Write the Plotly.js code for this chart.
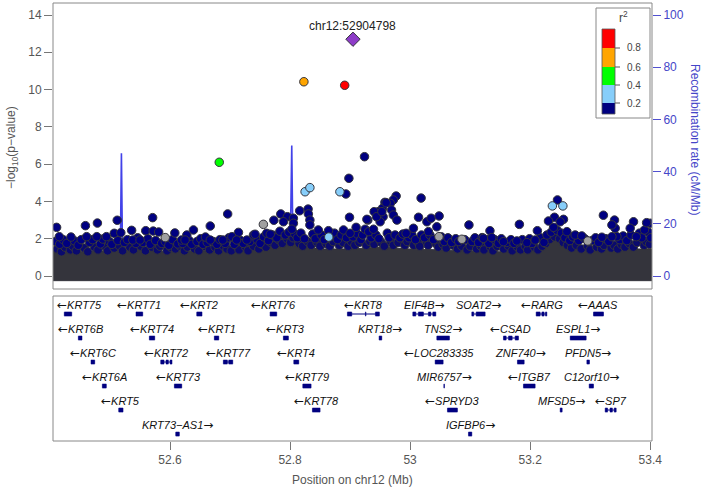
<!DOCTYPE html>
<html><head><meta charset="utf-8">
<script src="https://cdn.plot.ly/plotly-3.0.1.min.js"></script>
<style>html,body{margin:0;padding:0;background:#fff}#chart{width:704px;height:490px}</style>
</head><body><div id="chart"></div>
<script>
// ---------------- DATA ----------------
const leadName = "chr12:52904798";
const leadPos = [52.9048];
const leadP = [12.70];

const redPos = [52.891];      const redP = [10.23];
const orangePos = [52.823];   const orangeP = [10.42];
const greenPos = [52.682];    const greenP = [6.10];
const lightbluePos = [52.825, 52.833, 52.883, 52.8645, 53.237, 53.2545];
const lightblueP   = [4.52, 4.74, 4.52, 2.09, 3.76, 3.76];
const grayPos = [52.592, 52.7555, 53.048, 53.0862, 53.296];
const grayP   = [2.06, 2.77, 2.11, 1.97, 1.88];

const navyPos = [52.411,52.459,52.479,52.512,52.571,52.696,52.667,52.536,52.507,52.518,52.5595,52.572,52.581,52.608,52.628,52.639,52.714,52.435,52.4155,52.461,52.478,52.494,52.538,52.55,52.619,52.625,52.659,52.667,52.688,52.703,52.711,52.728,52.739,52.924,52.898,52.893,53.0183,52.9767,52.972,52.967,52.958,52.954,52.947,52.94,52.969,52.972,52.978,52.955,52.95,52.9295,52.899,52.91,52.816,52.83,52.8305,52.833,52.833,52.7845,52.7955,52.773,52.789,52.8055,52.8055,52.803,52.7417,52.761,52.767,52.847,52.864,52.889,52.90,52.925,52.931,52.939,53.014,53.028,53.035,53.0483,53.0055,52.9933,53.0305,53.0445,53.2455,53.322,53.182,53.098,53.133,53.2405,53.2555,53.2305,53.25,53.239,53.2612,53.3405,53.3417,53.3362,53.3722,53.3667,53.40,53.3905,53.377,53.3445,53.212,53.275,53.286,53.3195,53.3362,53.12,53.1222,53.136,53.1555,53.1778,53.1945,53.2083,52.928,52.944,52.953,52.96,53.394];
const navyP = [2.61,2.70,2.84,2.99,3.13,3.33,2.68,2.45,2.29,2.32,2.43,2.41,2.36,2.31,2.20,2.47,2.34,2.09,2.11,2.11,2.11,2.11,1.93,1.93,1.93,1.93,2.09,1.93,1.93,2.11,1.93,1.93,2.20,6.40,5.24,4.40,4.18,4.29,4.08,3.90,3.95,3.63,3.45,3.45,3.54,3.27,3.00,3.18,2.91,3.00,3.15,2.61,3.50,3.59,3.33,3.00,2.74,3.33,3.18,2.99,2.91,3.10,2.83,2.51,2.24,2.29,2.24,2.47,2.43,2.47,2.29,2.51,2.38,2.51,3.15,2.91,3.10,3.22,2.56,2.29,2.38,2.64,4.08,3.26,2.77,2.74,2.43,3.15,3.04,2.95,2.91,2.61,2.38,3.00,2.56,2.74,2.91,2.56,2.83,2.47,2.11,2.11,2.43,2.20,2.15,2.08,2.11,2.06,2.02,2.06,1.84,1.88,1.79,1.93,3.04,3.18,3.45,3.93,2.86];

// dense band of low-r2 SNPs forming the top of the cloud
const bandPos = [52.409,52.416,52.422,52.428,52.441,52.447,52.452,52.466,52.471,52.484,52.488,52.499,52.503,52.513,52.524,52.529,52.543,52.546,52.555,52.563,52.567,52.576,52.586,52.592,52.598,52.604,52.613,52.621,52.632,52.636,52.645,52.651,52.655,52.662,52.672,52.678,52.683,52.692,52.698,52.707,52.718,52.722,52.733,52.745,52.750,52.756,52.764,52.771,52.778,52.783,52.792,52.798,52.808,52.812,52.818,52.824,52.838,52.842,52.852,52.857,52.869,52.874,52.879,52.885,52.894,52.905,52.912,52.918,52.921,52.935,52.943,52.948,52.962,52.965,52.975,52.983,52.988,52.998,53.003,53.009,53.019,53.024,53.033,53.039,53.052,53.057,53.063,53.069,53.076,53.081,53.091,53.103,53.108,53.114,53.127,53.131,53.141,53.147,53.152,53.161,53.168,53.173,53.187,53.199,53.203,53.217,53.223,53.228,53.235,53.245,53.252,53.258,53.266,53.271,53.281,53.291,53.303,53.309,53.314,53.326,53.331,53.349,53.355,53.361,53.368,53.382,53.386,53.397,53.401];
const bandP = [1.85,1.70,1.95,1.75,1.88,1.65,1.95,1.80,1.95,1.72,1.98,1.85,1.70,1.90,1.80,1.95,1.75,2.05,1.80,2.00,1.70,1.90,1.75,1.85,1.65,1.95,1.72,1.75,1.90,1.70,1.85,2.00,1.70,1.80,1.85,1.70,1.95,1.75,2.05,1.70,1.90,1.75,1.85,1.95,1.75,2.10,1.90,2.20,2.05,2.40,2.20,2.35,2.25,2.05,2.30,2.00,2.25,2.00,2.20,1.95,2.15,2.30,1.95,2.20,2.05,2.10,2.25,1.95,2.20,2.05,2.20,2.00,2.30,2.05,2.20,2.05,2.25,2.05,2.20,1.95,2.20,2.05,2.20,1.95,2.10,1.85,2.05,1.80,2.00,1.85,1.95,1.85,2.05,1.80,1.95,1.75,1.95,1.75,2.00,1.80,1.95,1.75,1.95,2.00,1.75,2.05,1.80,2.20,2.35,2.45,2.30,2.05,1.90,2.10,1.90,2.00,1.90,2.05,1.80,2.00,1.85,1.95,2.15,1.90,2.20,2.30,2.05,2.35,2.05];
// lower layer of the band, partly sunk in the mass
const bandLowPos = [52.412,52.419,52.425,52.434,52.438,52.444,52.457,52.463,52.474,52.480,52.492,52.496,52.507,52.516,52.521,52.533,52.539,52.551,52.559,52.570,52.579,52.583,52.595,52.601,52.609,52.617,52.624,52.629,52.641,52.648,52.658,52.666,52.675,52.681,52.689,52.695,52.702,52.711,52.715,52.726,52.730,52.739,52.748,52.753,52.760,52.768,52.775,52.781,52.787,52.795,52.801,52.805,52.815,52.821,52.829,52.835,52.845,52.850,52.860,52.866,52.872,52.882,52.888,52.897,52.902,52.908,52.915,52.927,52.933,52.940,52.952,52.957,52.968,52.972,52.980,52.991,52.995,53.006,53.013,53.016,53.027,53.030,53.043,53.047,53.055,53.060,53.072,53.079,53.086,53.095,53.100,53.111,53.118,53.123,53.134,53.138,53.145,53.156,53.164,53.170,53.179,53.184,53.192,53.196,53.207,53.213,53.220,53.226,53.232,53.241,53.249,53.255,53.262,53.269,53.277,53.285,53.296,53.300,53.311,53.319,53.323,53.335,53.340,53.346,53.352,53.358,53.365,53.372,53.378,53.390,53.393,53.399];
const bandLowP = [1.45,1.30,1.55,1.40,1.60,1.35,1.50,1.30,1.55,1.40,1.60,1.35,1.50,1.60,1.35,1.55,1.40,1.60,1.35,1.55,1.40,1.60,1.35,1.55,1.45,1.60,1.35,1.55,1.45,1.35,1.60,1.40,1.55,1.35,1.60,1.45,1.35,1.60,1.40,1.55,1.35,1.60,1.45,1.70,1.55,1.80,1.65,1.95,1.75,2.00,1.80,2.05,1.75,1.60,1.85,1.65,1.80,1.60,1.75,1.60,1.85,1.65,1.80,1.60,1.85,1.65,1.80,1.65,1.85,1.70,1.80,1.60,1.85,1.65,1.80,1.65,1.85,1.65,1.80,1.60,1.85,1.65,1.75,1.55,1.70,1.50,1.65,1.45,1.60,1.40,1.60,1.45,1.60,1.40,1.55,1.35,1.60,1.45,1.60,1.35,1.55,1.40,1.60,1.40,1.55,1.40,1.60,1.75,1.95,2.10,2.00,1.80,1.65,1.50,1.65,1.45,1.60,1.40,1.55,1.45,1.65,1.50,1.65,1.45,1.70,1.55,1.75,1.55,1.80,1.65,1.85,1.70];

// upper envelope of the solid overplotted mass of SNPs
const massPos = [52.405,52.45,52.50,52.55,52.60,52.65,52.70,52.75,52.78,52.80,52.82,52.85,52.90,52.95,53.00,53.05,53.10,53.15,53.20,53.23,53.24,53.25,53.30,53.35,53.403];
const massTop = [1.35,1.30,1.35,1.40,1.30,1.35,1.35,1.40,1.75,1.95,1.55,1.45,1.45,1.55,1.45,1.40,1.35,1.30,1.35,1.65,2.25,1.65,1.40,1.45,1.45];
const massBottom = -0.25;

// recombination rate (cM/Mb)
const recPos  = [52.405,52.43,52.46,52.49,52.51,52.517,52.519,52.521,52.53,52.56,52.60,52.65,52.70,52.75,52.79,52.800,52.8028,52.805,52.82,52.86,52.90,52.95,53.00,53.05,53.10,53.15,53.20,53.25,53.30,53.35,53.403];
const recRate = [2,1.5,3,2,4,6,47,5,2,1,2,3,1,2,5,6,50,6,3,2,4,2,1,3,2,4,2,3,1,2,1];

// genes
const geneNames  = ["KRT75","KRT71","KRT2","KRT76","KRT8","EIF4B","SOAT2","RARG","AAAS",
                    "KRT6B","KRT74","KRT1","KRT3","KRT18","TNS2","CSAD","ESPL1",
                    "KRT6C","KRT72","KRT77","KRT4","LOC283335","ZNF740","PFDN5",
                    "KRT6A","KRT73","KRT79","MIR6757","ITGB7","C12orf10",
                    "KRT5","KRT78","SPRYD3","MFSD5","SP7",
                    "KRT73\u2212AS1","IGFBP6"];
const geneStart  = [52.4238,52.5433,52.6445,52.7667,52.8955,53.0045,53.1028,53.2100,53.3055,
                    52.4472,52.5655,52.6738,52.7888,52.9483,53.0445,53.1555,53.2667,
                    52.4683,52.5845,52.6888,52.8062,53.0417,53.1788,53.2945,
                    52.4872,52.6072,52.8212,53.0562,53.1888,53.2983,
                    52.5145,52.8372,53.0622,53.2500,53.3250,
                    52.6095,53.0972];
const geneEnd    = [52.4362,52.5545,52.6533,52.7778,52.9488,53.0428,53.1250,53.2278,53.3222,
                    52.4533,52.5745,52.6812,52.7972,52.9528,53.0655,53.1805,53.2933,
                    52.4745,52.6033,52.7045,52.8145,53.0550,53.1900,53.2988,
                    52.4938,52.6195,52.8350,53.0572,53.2083,53.3055,
                    52.5217,52.8500,53.0788,53.2533,53.3433,
                    52.6155,53.1028];
const geneStrand = ["-","-","-","-","-","+","+","-","-",
                    "-","-","-","-","+","+","-","+",
                    "-","-","-","-","-","+","+",
                    "-","-","-","+","-","+",
                    "-","-","-","+","-",
                    "+","+"];
const geneRow    = [1,1,1,1,1,1,1,1,1, 2,2,2,2,2,2,2,2, 3,3,3,3,3,3,3, 4,4,4,4,4,4, 5,5,5,5,5, 6,6];
const exonBlocks = {
  "KRT8":  [[52.8955,52.9028],[52.9255,52.9265],[52.9422,52.9488]],
  "EIF4B": [[53.0045,53.0095],[53.0138,53.0222],[53.0305,53.0345],[53.0378,53.0428]],
  "KRT72": [[52.5845,52.5900],[52.5933,52.5972],[52.6000,52.6033]],
  "KRT77": [[52.6888,52.6955],[52.6978,52.7045]],
  "RARG":  [[53.2100,53.2167],[53.2195,53.2233],[53.2255,53.2278]],
  "SOAT2": [[53.1028,53.1060],[53.1100,53.1250]],
  "CSAD":  [[53.1555,53.1600],[53.1640,53.1700],[53.1750,53.1805]],
  "SP7":   [[53.3250,53.3290],[53.3330,53.3370],[53.3400,53.3433]]
};

const xTickVals = [52.6, 52.8, 53.0, 53.2, 53.4];
const xTickText = ["52.6", "52.8", "53", "53.2", "53.4"];
const pTickVals = [0, 2, 4, 6, 8, 10, 12, 14];
const pTickText = ["0", "2", "4", "6", "8", "10", "12", "14"];
const recTickVals = [0, 20, 40, 60, 80, 100];
const recTickText = ["0", "20", "40", "60", "80", "100"];
const ldBinLabels = ["0.8", "0.6", "0.4", "0.2"];

// ---------------- STYLE / LAYOUT ----------------
const FONT = '"Liberation Sans", Arial, Helvetica, sans-serif';
const XR = [52.405, 53.403];
const L = 53, R = 652, T = 3, B = 441;
const PW = R - L, PH = B - T;
const ppm = PW / (XR[1] - XR[0]);
const px = v => (v - L) / PW;
const py = v => (B - v) / PH;

const ldColors = ["#FF0000", "#FFA500", "#00FF00", "#87CEFA", "#000080"];
const outline = {color: "#34343C", width: 1};

const traces = [];
traces.push({x: recPos, y: recRate, xaxis: "x", yaxis: "y", mode: "lines",
  line: {color: "rgba(45,45,230,0.9)", width: 1.6}, hoverinfo: "skip", showlegend: false});
traces.push({x: massPos.concat([massPos[massPos.length-1], massPos[0]]),
  y: massTop.concat([massBottom, massBottom]), xaxis: "x", yaxis: "y2", mode: "lines",
  fill: "toself", fillcolor: "#34343C", line: {color: "#34343C", width: 1}, hoverinfo: "skip", showlegend: false});
function pts(xs, ys, color, size, symbol) {
  return {x: xs, y: ys, xaxis: "x", yaxis: "y2", mode: "markers", hoverinfo: "skip", showlegend: false,
    marker: {color: color, size: size || 8.5, symbol: symbol || "circle", line: outline}};
}
traces.push(pts(bandLowPos, bandLowP, "#0A0A6E"));
traces.push(pts(bandPos, bandP, "#000080"));
traces.push(pts(navyPos, navyP, "#000080"));
traces.push(pts(grayPos, grayP, "#A0A0A0"));
traces.push(pts(lightbluePos, lightblueP, ldColors[3]));
traces.push(pts(greenPos, greenP, ldColors[2]));
traces.push(pts(orangePos, orangeP, ldColors[1]));
traces.push(pts(redPos, redP, ldColors[0]));
traces.push(pts(leadPos, leadP, "#8E3CC8", 11, "diamond"));

const shapes = [];
const annotations = [];
shapes.push({type: "rect", xref: "paper", yref: "paper", x0: 0, x1: 1, y0: py(289), y1: 1, line: {color: "#888", width: 1}});
shapes.push({type: "rect", xref: "paper", yref: "paper", x0: 0, x1: 1, y0: 0, y1: py(296), line: {color: "#888", width: 1}});

// genes
const ARROW_L = '<span style="font-family:DejaVu Sans;font-size:12px">\u2190</span>';
const ARROW_R = '<span style="font-family:DejaVu Sans;font-size:12px">\u2192</span>';
const measure = document.createElement("canvas").getContext("2d");
const exonH = 0.085;
geneNames.forEach((g, i) => {
  const r = -geneRow[i];
  shapes.push({type: "line", xref: "x", yref: "y3", x0: geneStart[i], x1: geneEnd[i], y0: r, y1: r,
    line: {color: "#000080", width: 1}});
  const blocks = exonBlocks[g] || [[geneStart[i], geneEnd[i]]];
  blocks.forEach(b => {
    shapes.push({type: "rect", xref: "x", yref: "y3", x0: b[0], x1: Math.max(b[1], b[0] + 0.0008),
      y0: r - exonH, y1: r + exonH, line: {color: "#000080", width: 0.5}, fillcolor: "#000080"});
  });
  const plus = geneStrand[i] === "+";
  const label = plus ? "<i>" + g + "</i>" + ARROW_R : ARROW_L + "<i>" + g + "</i>";
  measure.font = 'italic 11px "Liberation Sans"';
  let w = measure.measureText(g).width;
  measure.font = '12px "DejaVu Sans"';
  w += measure.measureText("\u2190").width;
  const mid = (geneStart[i] + geneEnd[i]) / 2;
  let x = mid, anchor = "center";
  if ((mid - XR[0]) * ppm - w / 2 < 2) { x = XR[0] + 2 / ppm; anchor = "left"; }
  if ((XR[1] - mid) * ppm - w / 2 < 2) { x = XR[1] - 2 / ppm; anchor = "right"; }
  annotations.push({xref: "x", yref: "y3", x: x, y: r + 0.36, xanchor: anchor, yanchor: "middle",
    text: label, showarrow: false, font: {family: FONT, size: 11, color: "#111"}});
});

// lead SNP label
annotations.push({xref: "x", yref: "y2", x: leadPos[0], y: leadP[0], yshift: 13, xanchor: "center", yanchor: "middle",
  text: leadName, showarrow: false, font: {family: FONT, size: 12, color: "#222"}});

// r2 legend
shapes.push({type: "rect", xref: "paper", yref: "paper", x0: px(596), x1: px(650), y0: py(118), y1: py(8),
  line: {color: "#888", width: 1}, fillcolor: "#fff"});
const segEdges = [29, 48, 67, 85, 103, 114];
ldColors.forEach((c, k) => {
  shapes.push({type: "rect", xref: "paper", yref: "paper", x0: px(602), x1: px(615),
    y0: py(segEdges[k + 1]), y1: py(segEdges[k]), line: {width: 0}, fillcolor: c});
});
shapes.push({type: "rect", xref: "paper", yref: "paper", x0: px(602), x1: px(615), y0: py(114), y1: py(29),
  line: {color: "#555", width: 0.8}});
ldBinLabels.forEach((t, k) => {
  const yy = segEdges[k + 1];
  shapes.push({type: "line", xref: "paper", yref: "paper", x0: px(615), x1: px(620), y0: py(yy), y1: py(yy),
    line: {color: "#555", width: 1}});
  annotations.push({xref: "paper", yref: "paper", x: px(625), y: py(yy), xanchor: "left", yanchor: "middle",
    text: t, showarrow: false, font: {family: FONT, size: 10, color: "#444"}});
});
annotations.push({xref: "paper", yref: "paper", x: px(623), y: py(17), xanchor: "center", yanchor: "middle",
  text: "r<sup>2</sup>", showarrow: false, font: {family: FONT, size: 12, color: "#444"}});

// axis titles
annotations.push({xref: "paper", yref: "paper", x: px(12), y: py(148), xanchor: "center", yanchor: "middle",
  textangle: -90, showarrow: false,
  text: "\u2212log<sub>10</sub>(p\u2212value)", font: {family: FONT, size: 12, color: "#555"}});
annotations.push({xref: "paper", yref: "paper", x: px(695), y: py(139), xanchor: "center", yanchor: "middle",
  textangle: 90, showarrow: false,
  text: "Recombination rate (cM/Mb)", font: {family: FONT, size: 12, color: "#4545C8"}});
annotations.push({xref: "paper", yref: "paper", x: 0.5, y: py(480), xanchor: "center", yanchor: "middle",
  showarrow: false, text: "Position on chr12 (Mb)", font: {family: FONT, size: 12, color: "#555"}});

const layout = {
  width: 704, height: 490, margin: {l: L, r: 704 - R, t: T, b: 490 - B, pad: 0},
  paper_bgcolor: "#fff", plot_bgcolor: "rgba(0,0,0,0)", showlegend: false,
  font: {family: FONT, size: 12, color: "#555"},
  xaxis: {domain: [0, 1], range: XR, anchor: "y3", tickvals: xTickVals, ticktext: xTickText,
    ticks: "outside", ticklen: 8, tickcolor: "#777", tickfont: {family: FONT, size: 12, color: "#555"},
    showgrid: false, zeroline: false, showline: false},
  yaxis: {domain: [py(289), 1], anchor: "x", side: "right", range: [-4.98, 104.6],
    tickvals: recTickVals, ticktext: recTickText, ticks: "outside", ticklen: 8, tickcolor: "#5050D0",
    tickfont: {family: FONT, size: 12, color: "#4545C8"}, showgrid: false, zeroline: false, showline: false},
  yaxis2: {overlaying: "y", anchor: "x", side: "left", range: [-0.697, 14.644],
    tickvals: pTickVals, ticktext: pTickText, ticks: "outside", ticklen: 8, tickcolor: "#777",
    tickfont: {family: FONT, size: 12, color: "#555"}, showgrid: false, zeroline: false, showline: false},
  yaxis3: {domain: [0, py(296)], anchor: "x", range: [-6.29, -0.25], visible: false, fixedrange: true},
  shapes: shapes, annotations: annotations
};
Plotly.newPlot("chart", traces, layout, {displayModeBar: false, staticPlot: true});
</script></body></html>
